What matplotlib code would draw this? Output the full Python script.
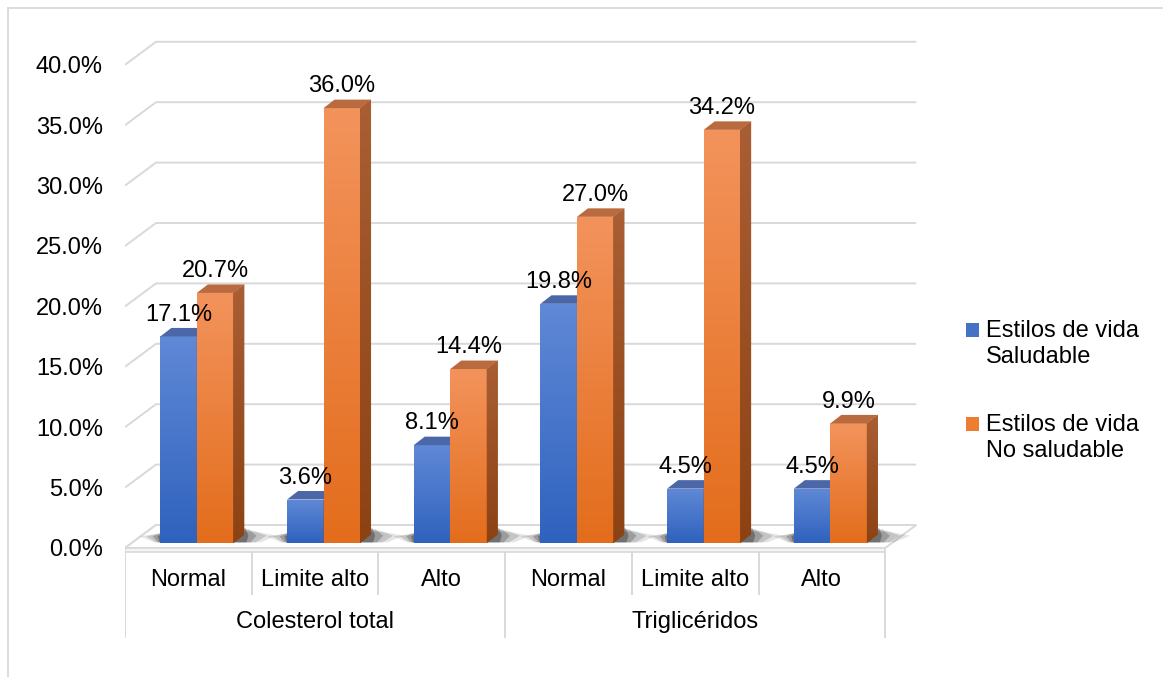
import matplotlib
matplotlib.use('Agg')
import matplotlib.pyplot as plt
import numpy as np
from matplotlib.patches import Polygon, Rectangle
from matplotlib.colors import LinearSegmentedColormap
from matplotlib.lines import Line2D
from matplotlib.legend_handler import HandlerPatch

plt.rcParams['font.family'] = ['Liberation Sans', 'DejaVu Sans']

# data
groups = ['Colesterol total', 'Triglicéridos']
categories = ['Normal', 'Limite alto', 'Alto', 'Normal', 'Limite alto', 'Alto']
saludable = [17.1, 3.6, 8.1, 19.8, 4.5, 4.5]
no_saludable = [20.7, 36.0, 14.4, 27.0, 34.2, 9.9]
series_names = ['Estilos de vida\nSaludable', 'Estilos de vida\nNo saludable']
yticks = [0, 5, 10, 15, 20, 25, 30, 35, 40]

W, H = 1163, 677
fig = plt.figure(figsize=(W / 100, H / 100), dpi=100)

# pixel scale of the front plane
px_x = 126.7   # px per category
px_y = 12.08   # px per percent
ax = fig.add_axes([125 / W, 0, (935 - 125) / W, 1])
xlim = (-0.5, -0.5 + (935 - 125) / px_x)
ylim = (-(H - 548) / px_y, 548 / px_y)

# pseudo 3d offsets (data units)
wall_dx, wall_dy = 31 / px_x, 23 / px_y
side_dx, side_dy = 11 / px_x, 8.5 / px_y
lift = 5 / px_y
shift = 0.067
bar_w = 36.5 / px_x
n = len(categories)
x = np.arange(n)
grid_c = '#D9D9D9'
blue, orange = '#4472C4', '#ED7D31'

# gridlines: short diagonal on the left + back wall line
for v in yticks:
    ax.plot([-0.5, -0.5 + wall_dx, n - 0.5 + wall_dx], [v, v + wall_dy, v + wall_dy],
            color=grid_c, lw=1.4, zorder=1, solid_capstyle='butt')

# floor slab
ax.add_patch(Polygon([(-0.5, 0), (n - 0.5, 0), (n - 0.5 + wall_dx, wall_dy),
                      (-0.5 + wall_dx, wall_dy)], closed=True, fc='white', ec=grid_c,
                     lw=1.4, zorder=2))
ax.add_patch(Polygon([(-0.5, 0), (n - 0.5, 0), (n - 0.5, -0.3), (-0.5, -0.3)],
                     closed=True, fc='#F4F4F4', ec=grid_c, lw=1.2, zorder=2))

# soft shadows on the floor (stacked lens shapes)
for i in range(n):
    xl = i + shift - bar_w
    xr = i + shift + bar_w + side_dx
    for grow, a in [(0.16, 0.10), (0.11, 0.14), (0.06, 0.2), (0.02, 0.28)]:
        pts = [(xl - grow, lift + 0.55), (xl - grow * 0.3, lift + 0.05),
               (xr + grow * 0.8, lift + 0.05), (xr + grow * 1.6, lift + 0.6),
               (xr + grow * 0.6, lift + 1.25 - grow * 2), (xl + side_dx, lift + 1.25 - grow * 2)]
        ax.add_patch(Polygon(pts, closed=True, fc='black', ec='none', alpha=a, zorder=3))

b1 = ax.bar(x + shift - bar_w / 2, saludable, bar_w, bottom=lift, color=blue,
            zorder=4, linewidth=0)
b2 = ax.bar(x + shift + bar_w / 2, no_saludable, bar_w, bottom=lift, color=orange,
            zorder=6, linewidth=0)

grad = np.linspace(0, 1, 128).reshape(-1, 1)
front_cmaps = [LinearSegmentedColormap.from_list('b', ['#2F62BE', '#6089D6']),
               LinearSegmentedColormap.from_list('o', ['#E36D1C', '#F3935C'])]
top_cols = ['#4B67A8', '#BA6A3F']
side_cmap = LinearSegmentedColormap.from_list('s', ['#8C4213', '#A95E34'])

for k, (bars, vals) in enumerate([(b1, saludable), (b2, no_saludable)]):
    z = 4 if k == 0 else 6
    for rect, v in zip(bars, vals):
        x0 = rect.get_x()
        x1 = x0 + rect.get_width()
        y0 = rect.get_y()
        y1 = y0 + rect.get_height()
        im = ax.imshow(grad, extent=[x0, x1, y0, y1], origin='lower', aspect='auto',
                       cmap=front_cmaps[k], zorder=z + 0.1, interpolation='bilinear')
        im.set_clip_path(rect)
        # top face
        ax.add_patch(Polygon([(x0, y1), (x1, y1), (x1 + side_dx, y1 + side_dy),
                              (x0 + side_dx, y1 + side_dy)], closed=True,
                             fc=top_cols[k], ec='none', zorder=z + 0.5))
        # side face
        side = Polygon([(x1, y0), (x1 + side_dx, y0 + side_dy),
                        (x1 + side_dx, y1 + side_dy), (x1, y1)], closed=True,
                       fc='#9A4E20', ec='none', zorder=z + 0.4)
        ax.add_patch(side)
        if k == 1:
            ims = ax.imshow(grad, extent=[x1, x1 + side_dx, y0, y1 + side_dy],
                            origin='lower', aspect='auto', cmap=side_cmap,
                            zorder=z + 0.45, interpolation='bilinear')
            ims.set_clip_path(side)
        # value label
        ax.text((x0 + x1) / 2, y1 + 1.8, f'{v:.1f}%', ha='center', va='center',
                fontsize=17, color='black', zorder=10)

# category axis: two-level labels with dividers
for i, c in enumerate(categories):
    ax.text(i, -2.65, c, ha='center', va='center', fontsize=17)
for g, name in enumerate(groups):
    ax.text(g * 3 + 1, -6.13, name, ha='center', va='center', fontsize=17)
for xd in np.arange(-0.5, n, 1.0):
    long = abs(xd - (-0.5)) < 1e-6 or abs(xd - 2.5) < 1e-6 or abs(xd - (n - 0.5)) < 1e-6
    ax.plot([xd, xd], [-0.33, -7.37 if long else -3.81], color=grid_c, lw=1.4, zorder=1)

ax.set_xlim(*xlim)
ax.set_ylim(*ylim)
ax.set_yticks(yticks)
ax.set_yticklabels([f'{v:.1f}%' for v in yticks], fontsize=17)
ax.tick_params(axis='y', length=0, pad=16)
ax.set_xticks([])
for s in ax.spines.values():
    s.set_visible(False)
ax.patch.set_visible(False)


# legend square sits beside the first line of the two-line label
def first_line_square(legend, orig_handle, xdescent, ydescent, width, height, fontsize):
    return Rectangle((-xdescent, -ydescent + 10), width, height)


proxies = [Rectangle((0, 0), 1, 1, fc=blue, lw=0), Rectangle((0, 0), 1, 1, fc=orange, lw=0)]
ax.legend(proxies, series_names, loc='center left', bbox_to_anchor=(966 / W, 1 - 391 / H),
          bbox_transform=fig.transFigure, frameon=False, fontsize=17,
          handlelength=0.55, handleheight=0.55, handletextpad=0.3,
          labelspacing=1.98, borderpad=0, borderaxespad=0,
          handler_map={Rectangle: HandlerPatch(patch_func=first_line_square)})

# outer chart frame (top and left edges visible)
fig.add_artist(Line2D([8 / W, 1], [1 - 8 / H, 1 - 8 / H], transform=fig.transFigure,
                      color=grid_c, lw=1.3))
fig.add_artist(Line2D([8 / W, 8 / W], [0, 1 - 8 / H], transform=fig.transFigure,
                      color=grid_c, lw=1.3))

fig.savefig('out.png', dpi=100)
